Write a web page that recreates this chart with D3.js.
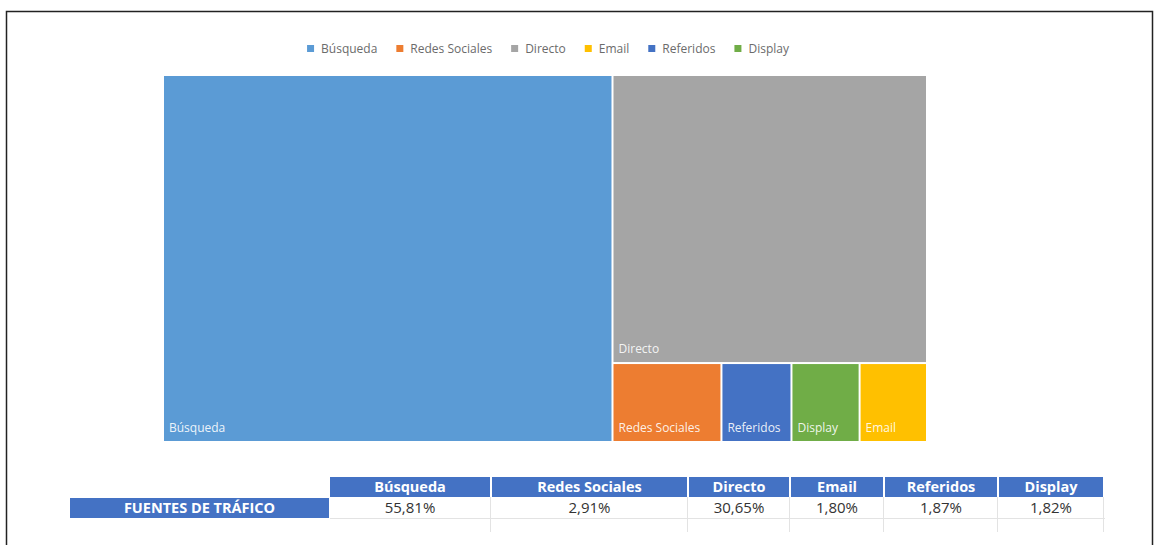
<!DOCTYPE html>
<html>
<head>
<meta charset="utf-8">
<script src="https://cdn.jsdelivr.net/npm/d3@7"></script>
<style>
  body { margin: 0; background: #fff; }
  svg { display: block; font-family: "Open Sans", sans-serif; }
</style>
</head>
<body>
<div id="chart"></div>
<script>
const categories = ["Búsqueda", "Redes Sociales", "Directo", "Email", "Referidos", "Display"];
const shares = [55.81, 2.91, 30.65, 1.80, 1.87, 1.82];
const palette = ["#5B9BD5", "#ED7D31", "#A5A5A5", "#FFC000", "#4472C4", "#70AD47"];
const rowLabel = "FUENTES DE TRÁFICO";

const width = 1162;
const height = 545;
const tm = { x: 164, y: 76, w: 762, h: 365 };
// table layout
const tableLeft = 70, labelW = 259, headerTop = 477, headerH = 20, rowH = 21;
const colWidths = [162, 197, 102, 94, 114, 106];

const color = d3.scaleOrdinal().domain(categories).range(palette);
const es = d3.formatLocale({ decimal: ",", thousands: ".", grouping: [3], currency: ["", "€"] });
const pct = v => es.format(".2f")(v) + "%";

const svg = d3.select("#chart")
  .append("svg")
  .attr("width", width)
  .attr("height", height);

// frame
svg.append("path")
  .attr("d", `M6.5,545V11.5H1152.5V545`)
  .attr("fill", "none")
  .attr("stroke", "#222")
  .attr("stroke-width", 1.5);

// legend
const legend = svg.append("g").attr("font-size", 12).attr("fill", "#6b6b6b");
let lx = 0;
const items = legend.selectAll("g")
  .data(categories)
  .join("g");
items.append("rect")
  .attr("width", 7).attr("height", 7).attr("y", -4)
  .attr("fill", d => color(d));
items.append("text")
  .attr("x", 14).attr("dy", "0.35em")
  .text(d => d);
items.each(function() {
  const g = d3.select(this);
  g.attr("transform", `translate(${lx},0)`);
  lx += 14 + g.select("text").node().getComputedTextLength() + 19;
});
lx -= 19;
legend.attr("transform", `translate(${548 - lx / 2},49)`);

// treemap
const data = categories.map((c, i) => ({ name: c, value: shares[i] }));
const root = d3.hierarchy({ children: data })
  .sum(d => d.value)
  .sort((a, b) => b.value - a.value);
d3.treemap()
  .size([tm.w, tm.h])
  .paddingInner(2)
  .tile(d3.treemapSquarify.ratio(1))(root);

const leaf = svg.append("g")
  .attr("transform", `translate(${tm.x},${tm.y})`)
  .selectAll("g")
  .data(root.leaves())
  .join("g");
leaf.append("rect")
  .attr("x", d => d.x0).attr("y", d => d.y0)
  .attr("width", d => d.x1 - d.x0)
  .attr("height", d => d.y1 - d.y0)
  .attr("fill", d => color(d.data.name));
leaf.append("text")
  .attr("x", d => d.x0 + 5).attr("y", d => d.y1 - 9)
  .attr("font-size", 12)
  .attr("fill", "#fff")
  .attr("fill-opacity", 0.9)
  .text(d => d.data.name);

// table
const edges = [tableLeft + labelW + 1];
colWidths.forEach(w => edges.push(edges[edges.length - 1] + w));
const table = svg.append("g");

// gridlines
table.append("g")
  .attr("stroke", "#e3e3e3")
  .selectAll("line")
  .data(edges.slice(1))
  .join("line")
  .attr("x1", d => d - 1.5).attr("x2", d => d - 1.5)
  .attr("y1", headerTop + headerH).attr("y2", 532);
table.append("line")
  .attr("x1", edges[0]).attr("x2", edges[edges.length - 1])
  .attr("y1", headerTop + headerH + rowH + 0.5).attr("y2", headerTop + headerH + rowH + 0.5)
  .attr("stroke", "#e3e3e3");

const cols = table.selectAll("g.col")
  .data(categories)
  .join("g")
  .attr("class", "col");
cols.append("rect")
  .attr("x", (d, i) => edges[i])
  .attr("y", headerTop)
  .attr("width", (d, i) => colWidths[i] - 2)
  .attr("height", headerH)
  .attr("fill", "#4472C4");
cols.append("text")
  .attr("x", (d, i) => edges[i] + (colWidths[i] - 2) / 2)
  .attr("y", headerTop + headerH / 2)
  .attr("dy", "0.35em")
  .attr("text-anchor", "middle")
  .attr("font-size", 14.5)
  .attr("font-weight", "bold")
  .attr("fill", "#fff")
  .text(d => d);
cols.append("text")
  .attr("x", (d, i) => edges[i] + (colWidths[i] - 2) / 2)
  .attr("y", headerTop + headerH + rowH / 2)
  .attr("dy", "0.35em")
  .attr("text-anchor", "middle")
  .attr("font-size", 15)
  .attr("fill", "#333")
  .text((d, i) => pct(shares[i]));

table.append("rect")
  .attr("x", tableLeft).attr("y", headerTop + headerH + 1)
  .attr("width", labelW).attr("height", rowH - 1)
  .attr("fill", "#4472C4");
table.append("text")
  .attr("x", tableLeft + labelW / 2)
  .attr("y", headerTop + headerH + 1 + (rowH - 1) / 2)
  .attr("dy", "0.35em")
  .attr("text-anchor", "middle")
  .attr("font-size", 14.5)
  .attr("font-weight", "bold")
  .attr("fill", "#fff")
  .text(rowLabel);
</script>
</body>
</html>
